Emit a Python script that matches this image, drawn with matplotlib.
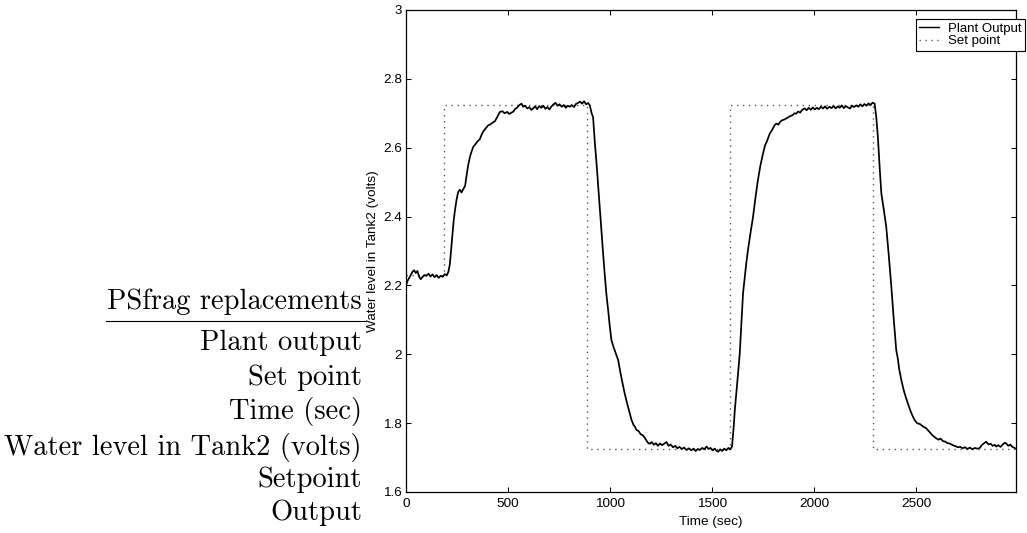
import matplotlib
matplotlib.use("Agg")
import matplotlib.pyplot as plt
from matplotlib.lines import Line2D

# ---------------- data ----------------
out_t = [0, 8, 16, 24, 32, 40, 48, 56, 64, 72, 80, 90, 100, 110, 120, 130, 140, 150, 160, 170,
         180, 190, 200, 208, 215,
         222, 228, 234, 240, 248, 256, 264, 272, 281, 290, 297, 305, 314, 322, 330, 340, 350, 362,
         372, 382, 392, 403, 414, 425, 436, 448, 460, 472, 484, 496, 506, 517, 526, 534, 544, 556,
         566, 574, 584, 594, 604, 614, 623, 633, 643, 653, 663, 673, 683, 693, 703, 713, 723, 733,
         743, 753, 763, 773, 783, 793, 803, 813, 823, 833, 843, 853, 863, 873, 883, 893, 901,
         910, 917, 925, 934, 943, 953, 964, 975, 983, 991, 999, 1007, 1015, 1025, 1040, 1050, 1060,
         1072, 1085, 1097, 1105, 1115, 1122, 1130, 1140, 1150, 1160, 1170, 1180, 1188, 1195, 1205,
         1215, 1225, 1235, 1245, 1255, 1265, 1277, 1287, 1297, 1309, 1320, 1330, 1340, 1352, 1363,
         1375, 1387, 1398, 1410, 1420, 1430, 1440, 1452, 1462, 1473, 1483, 1493, 1503, 1513, 1523,
         1530, 1540, 1550, 1560, 1570, 1580, 1590, 1598,
         1605, 1612, 1619, 1627, 1636, 1644, 1652, 1660, 1668, 1676, 1688, 1701, 1713, 1725, 1737,
         1750, 1760, 1770, 1783, 1795, 1805, 1815, 1825, 1835, 1845, 1855, 1864, 1874, 1884, 1894,
         1904, 1913, 1922, 1932, 1942, 1954, 1964, 1974, 1984, 1994, 2004, 2014, 2024, 2034, 2044,
         2054, 2064, 2076, 2086, 2096, 2106, 2116, 2126, 2136, 2146, 2156, 2166, 2176, 2186, 2196,
         2207, 2217, 2227, 2237, 2247, 2257, 2267, 2277, 2287, 2297,
         2305, 2313, 2321, 2330, 2342, 2354, 2366, 2379, 2391, 2403, 2410, 2418, 2428, 2440, 2450,
         2460, 2470, 2480, 2493, 2505, 2520, 2535, 2550, 2565, 2580, 2590, 2599, 2610, 2620, 2632,
         2644, 2654, 2664, 2674, 2684, 2694, 2704, 2716, 2729, 2740, 2752, 2764, 2776, 2788, 2800,
         2811, 2822, 2834, 2844, 2855, 2866, 2876, 2886, 2893, 2903, 2914, 2925, 2935, 2942, 2952,
         2962, 2972, 2980, 2986]
out_v = [2.200, 2.214, 2.222, 2.231, 2.240, 2.244, 2.236, 2.242, 2.226, 2.218, 2.224, 2.230, 2.228,
         2.234, 2.226, 2.232, 2.224, 2.230, 2.222, 2.228, 2.225, 2.233, 2.229, 2.240, 2.262,
         2.310, 2.350, 2.390, 2.418, 2.450, 2.472, 2.478, 2.470, 2.480, 2.490, 2.520, 2.550, 2.575,
         2.590, 2.603, 2.610, 2.618, 2.625, 2.640, 2.650, 2.657, 2.665, 2.668, 2.673, 2.677, 2.690,
         2.704, 2.706, 2.700, 2.704, 2.698, 2.702, 2.705, 2.712, 2.716, 2.724, 2.728, 2.719, 2.722,
         2.714, 2.718, 2.710, 2.714, 2.720, 2.712, 2.721, 2.716, 2.722, 2.713, 2.718, 2.711, 2.720,
         2.726, 2.730, 2.722, 2.726, 2.719, 2.724, 2.716, 2.722, 2.719, 2.724, 2.718, 2.727, 2.730,
         2.734, 2.728, 2.735, 2.726, 2.730, 2.723,
         2.700, 2.689, 2.620, 2.554, 2.480, 2.399, 2.310, 2.225, 2.170, 2.128, 2.080, 2.041, 2.025,
         2.008, 1.983, 1.950, 1.920, 1.886, 1.855, 1.828, 1.810, 1.795, 1.790, 1.780, 1.777, 1.768,
         1.765, 1.758, 1.748, 1.742, 1.740, 1.745, 1.737, 1.742, 1.734, 1.741, 1.736, 1.740, 1.745,
         1.734, 1.738, 1.730, 1.734, 1.727, 1.731, 1.725, 1.729, 1.722, 1.727, 1.721, 1.726, 1.719,
         1.725, 1.722, 1.728, 1.724, 1.732, 1.725, 1.728, 1.721, 1.726, 1.719, 1.717, 1.724, 1.719,
         1.726, 1.721, 1.728, 1.724, 1.732,
         1.780, 1.840, 1.886, 1.940, 2.003, 2.090, 2.177, 2.220, 2.265, 2.302, 2.350, 2.399, 2.455,
         2.506, 2.548, 2.583, 2.607, 2.620, 2.641, 2.652, 2.664, 2.670, 2.667, 2.676, 2.680, 2.682,
         2.685, 2.688, 2.692, 2.694, 2.700, 2.699, 2.705, 2.702, 2.710, 2.714, 2.709, 2.716, 2.710,
         2.717, 2.711, 2.716, 2.712, 2.719, 2.714, 2.720, 2.713, 2.719, 2.715, 2.721, 2.714, 2.720,
         2.716, 2.723, 2.715, 2.721, 2.717, 2.714, 2.722, 2.718, 2.723, 2.719, 2.726, 2.720, 2.727,
         2.722, 2.729, 2.724, 2.731, 2.728,
         2.690, 2.631, 2.550, 2.467, 2.420, 2.370, 2.290, 2.196, 2.100, 2.012, 1.990, 1.955, 1.925,
         1.895, 1.875, 1.857, 1.840, 1.825, 1.809, 1.800, 1.797, 1.790, 1.785, 1.775, 1.765, 1.760,
         1.756, 1.752, 1.755, 1.748, 1.746, 1.742, 1.741, 1.738, 1.735, 1.733, 1.730, 1.731, 1.727,
         1.730, 1.725, 1.729, 1.724, 1.728, 1.726, 1.727, 1.736, 1.742, 1.746, 1.738, 1.740, 1.734,
         1.737, 1.732, 1.736, 1.731, 1.738, 1.743, 1.741, 1.734, 1.738, 1.731, 1.729, 1.727]

sp_t = [0, 185, 886, 1588, 2290, 2990]
sp_v = [2.23, 2.725, 1.725, 2.725, 1.725, 1.725]

x_ticks = [0, 500, 1000, 1500, 2000, 2500]
y_ticks = [1.6, 1.8, 2.0, 2.2, 2.4, 2.6, 2.8, 3.0]
y_tick_labels = ["1.6", "1.8", "2", "2.2", "2.4", "2.6", "2.8", "3"]

psfrag_title = "PSfrag replacements"
psfrag_items = ["Plant output", "Set point", "Time (sec)", "Water level in Tank2 (volts)",
                "Setpoint", "Output"]

# ---------------- figure ----------------
W, H = 1027, 533
fig = plt.figure(figsize=(W / 100, H / 100), dpi=100)
sans = ["Liberation Sans", "DejaVu Sans"]
plt.rcParams["font.family"] = sans

L, R, T, B = 406, 1016, 10, 492
ax = fig.add_axes([L / W, 1 - B / H, (R - L) / W, (B - T) / H])

ax.plot(out_t, out_v, color="black", lw=1.25, zorder=3, label="Plant Output")
ax.plot(sp_t, sp_v, color="0.35", lw=1.0, linestyle=(0, (1, 3.3)), drawstyle="steps-post",
        zorder=2, label="Set point")

ax.set_xlim(0, 2990)
ax.set_ylim(1.6, 3.0)
ax.set_xticks(x_ticks)
ax.set_xticklabels([str(v) for v in x_ticks])
ax.set_yticks(y_ticks)
ax.set_yticklabels(y_tick_labels)
ax.tick_params(direction="in", length=3.6, width=0.75, top=True, right=True,
               labelsize=9.7, colors="black")
ax.tick_params(axis="x", pad=4)
ax.tick_params(axis="y", pad=3)
for sp in ax.spines.values():
    sp.set_linewidth(0.9)

ax.set_xlabel("Time (sec)", fontsize=9.7, labelpad=5)
ax.set_ylabel("Water level in Tank2 (volts)", fontsize=9.7)
ax.yaxis.set_label_coords((379 - L) / (R - L), 0.5)

handles = [Line2D([], [], color="black", lw=1.0),
           Line2D([], [], color="0.35", lw=1.0, linestyle=(0, (1, 3.3)))]
leg = fig.legend(handles, ["Plant Output", "Set point"], loc="upper right",
                 bbox_to_anchor=(1025 / W, 1 - 19 / H), bbox_transform=fig.transFigure,
                 fontsize=9.5, frameon=True, fancybox=False, shadow=False,
                 handlelength=1.5, handletextpad=0.7, labelspacing=0.05,
                 borderpad=0.25, borderaxespad=0.0)
leg.get_frame().set_edgecolor("black")
leg.get_frame().set_linewidth(0.8)
leg.get_frame().set_facecolor("white")
leg.get_frame().set_alpha(1.0)

# ---------------- PSfrag replacement text block ----------------
serif = ["cmr10", "DejaVu Serif"]
xr = 362 / W
fs = 20.5
fig.text(xr, 1 - 302 / H, psfrag_title, ha="right", va="center", fontsize=fs,
         family=serif)
fig.add_artist(Line2D([106 / W, 365 / W], [1 - 321 / H, 1 - 321 / H], color="black",
                      lw=0.8, transform=fig.transFigure))
item_y = [343, 378, 412, 447, 480, 513]
for yy, s in zip(item_y, psfrag_items):
    fig.text(xr, 1 - yy / H, s, ha="right", va="center", fontsize=fs, family=serif)

fig.savefig("out.png", dpi=100)
